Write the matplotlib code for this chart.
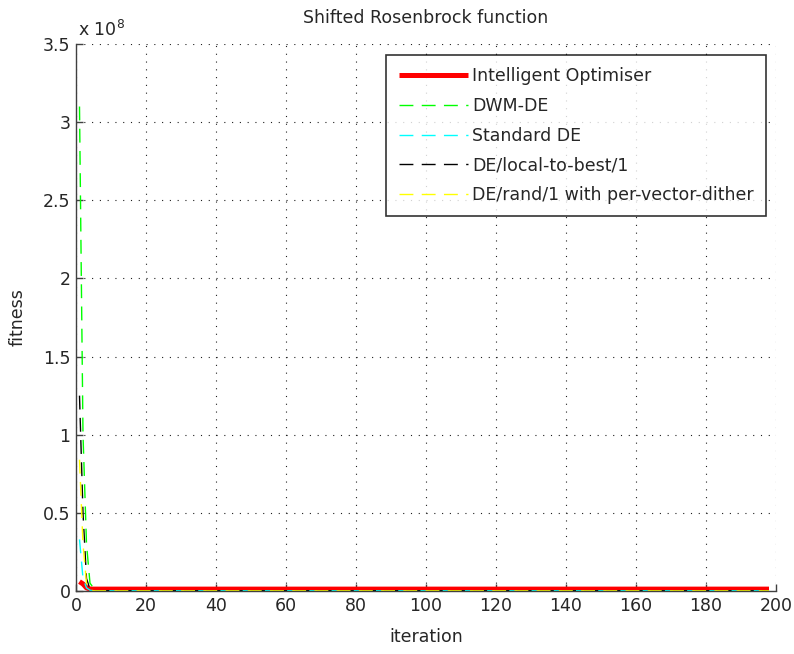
import numpy as np
import matplotlib
matplotlib.use("Agg")
import matplotlib.pyplot as plt
from matplotlib.ticker import FuncFormatter

plt.rcParams['font.family'] = ['DejaVu Sans']

# number of iterations recorded for every optimiser
n_iter = 198

# early-iteration fitness values (first few generations), tail settles afterwards
io_head = [6.0e6, 4.5e6, 2.0e6, 1.3e6]
io_tail = 1.2e6

dwm_head = [3.1e8, 1.0e8, 0.3e8, 0.05e8, 0.02e8]
dwm_tail = 1.5e5

std_head = [0.33e8, 0.08e8, 0.02e8, 0.005e8]
std_tail = 1.5e5

ltb_head = [1.25e8, 0.5e8, 0.08e8, 0.012e8]
ltb_tail = 1.5e5

dither_head = [0.84e8, 0.3e8, 0.05e8, 0.01e8]
dither_tail = 1.5e5

labels = ["Intelligent Optimiser", "DWM-DE", "Standard DE",
          "DE/local-to-best/1", "DE/rand/1 with per-vector-dither"]

x_ticks = list(range(0, 201, 20))
y_ticks = [0, 0.5e8, 1.0e8, 1.5e8, 2.0e8, 2.5e8, 3.0e8, 3.5e8]

FS = 12.5
TXT = '#262626'
DASH = (10, 6)


def curve(head, tail):
    vals = list(head) + [tail] * (n_iter - len(head))
    return np.arange(1, n_iter + 1), np.array(vals)


fig = plt.figure(figsize=(7.94, 6.54), dpi=100)
ax = fig.add_axes([76 / 794, 63 / 654, 700 / 794, 547 / 654])

x, y = curve(io_head, io_tail)
ax.plot(x, y, color='#ff0000', lw=3.6, solid_capstyle='butt', label=labels[0])
x, y = curve(dwm_head, dwm_tail)
ax.plot(x, y, color='#00ff00', lw=1.0, dashes=DASH, label=labels[1])
x, y = curve(std_head, std_tail)
ax.plot(x, y, color='#00ffff', lw=1.0, dashes=DASH, label=labels[2])
x, y = curve(ltb_head, ltb_tail)
ax.plot(x, y, color='#000000', lw=1.0, dashes=DASH, label=labels[3])
x, y = curve(dither_head, dither_tail)
ax.plot(x, y, color='#ffff00', lw=1.0, dashes=DASH, label=labels[4])

ax.set_xlim(0, 200)
ax.set_ylim(0, 3.5e8)
ax.set_xticks(x_ticks)
ax.set_yticks(y_ticks)
ax.yaxis.set_major_formatter(FuncFormatter(lambda v, p: f"{v / 1e8:g}"))

ax.grid(True, linestyle=(0, (1, 6)), color='#202020', linewidth=0.8)
ax.set_axisbelow(True)
for side in ('top', 'right'):
    ax.spines[side].set_visible(False)
for side in ('left', 'bottom'):
    ax.spines[side].set_color('#404040')
    ax.spines[side].set_linewidth(1.0)
ax.tick_params(direction='in', length=5, width=1.0, color='#404040',
               labelsize=FS, labelcolor=TXT, pad=4)

ax.set_xlabel('iteration', fontsize=FS, color=TXT, labelpad=10)
ax.set_ylabel('fitness', fontsize=FS, color=TXT, labelpad=12)
ax.set_title('Shifted Rosenbrock function', fontsize=FS, color=TXT, pad=15)
ax.text(0.003, 1.008, r'x 10$^{8}$', transform=ax.transAxes, fontsize=FS,
        color=TXT, ha='left', va='bottom')

leg = ax.legend(loc='upper right', bbox_to_anchor=(0.986, 0.98), fontsize=FS,
                frameon=True, fancybox=False, handlelength=4.0,
                labelspacing=0.68, borderpad=0.7, handletextpad=0.25,
                borderaxespad=0)
leg.get_frame().set_edgecolor('#000000')
leg.get_frame().set_linewidth(1.2)
for t in leg.get_texts():
    t.set_color(TXT)

fig.savefig('out.png', dpi=100)
